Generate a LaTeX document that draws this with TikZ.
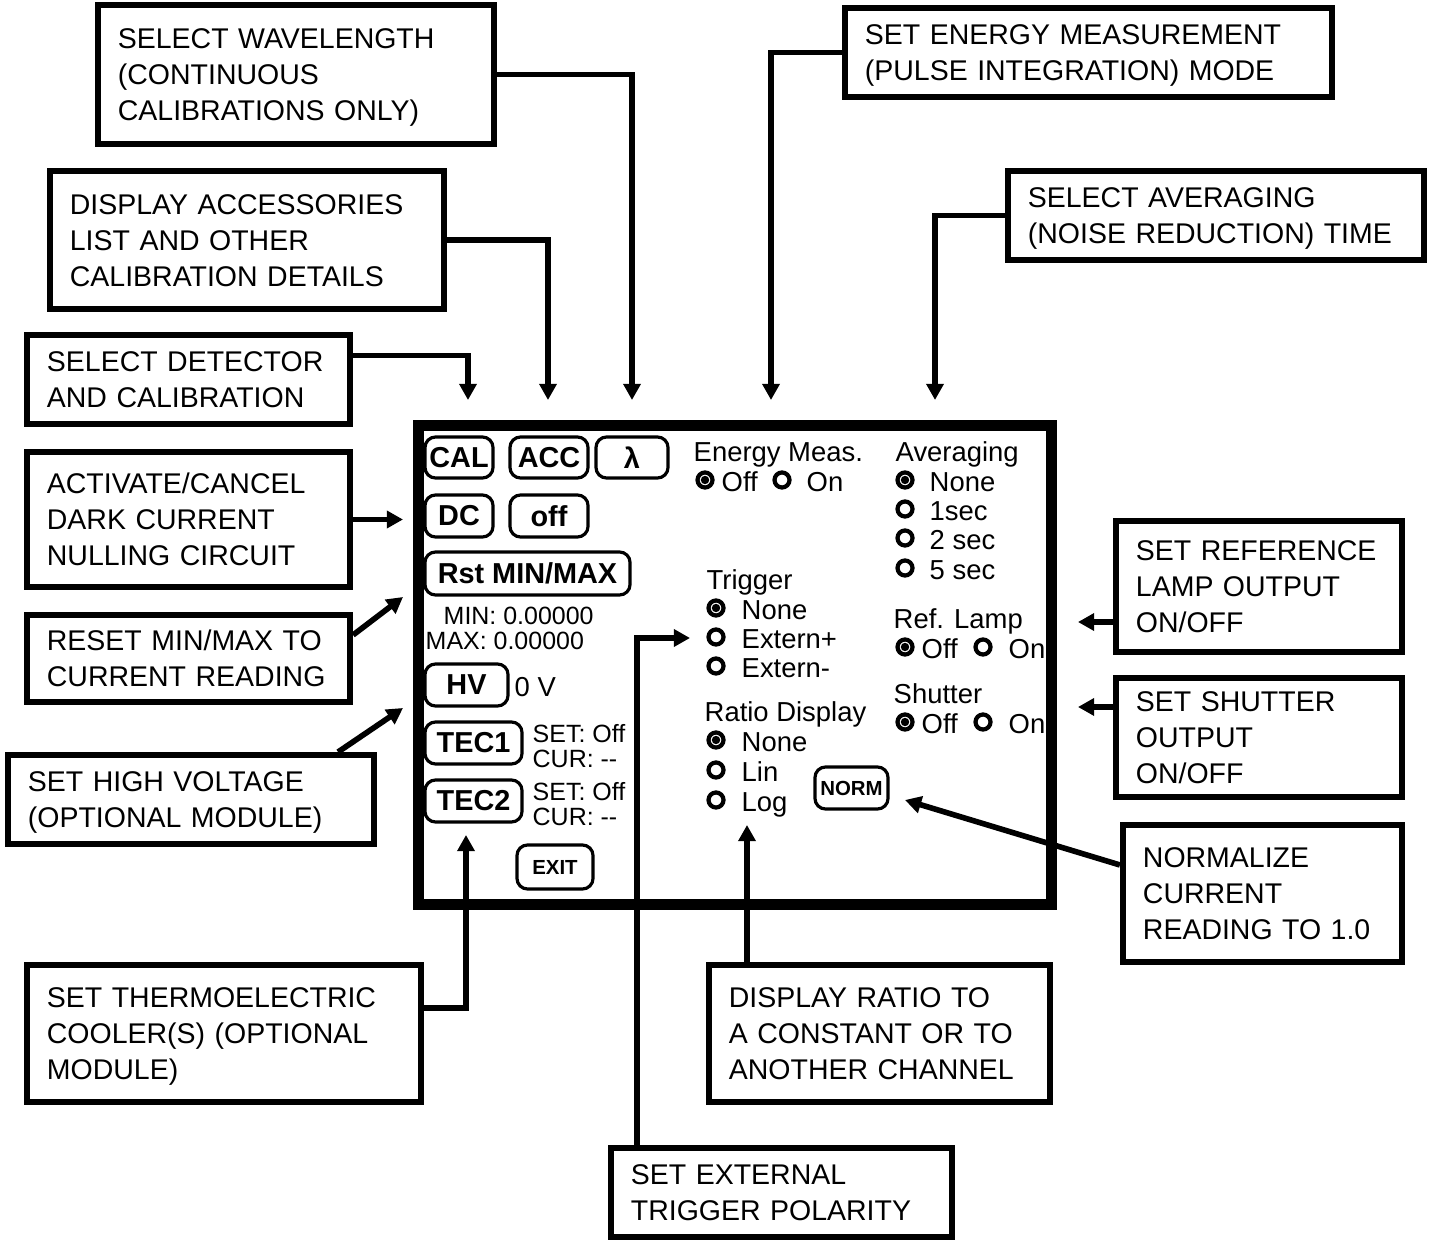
\documentclass[tikz,border=0pt]{standalone}
\usepackage{fontspec}
\setmainfont{Liberation Sans}
\usetikzlibrary{arrows.meta}

\newcommand{\callfont}{\fontsize{8.1pt}{10.25pt}\selectfont}
\newcommand{\scrfont}{\fontsize{7.8pt}{9pt}\selectfont}
\newcommand{\smallscrfont}{\fontsize{7.1pt}{8.5pt}\selectfont}
\newcommand{\btnfont}{\fontsize{8.2pt}{10pt}\selectfont\bfseries}
\newcommand{\smallbtnfont}{\fontsize{5.8pt}{7pt}\selectfont\bfseries}

\tikzset{
  callout/.style={draw, line width=1.7pt, inner xsep=0.2cm, inner ysep=0pt, align=left, font=\callfont,
    execute at begin node={\rule{0pt}{8pt}}, execute at end node={\rule[-2.2pt]{0pt}{0pt}}},
  lead/.style={line width=1.6pt, -{Triangle[length=4.6pt,width=4.8pt]}},
  btn/.style={draw, line width=0.9pt, rounded corners=3pt, inner sep=0pt, font=\btnfont},
  scrtext/.style={inner sep=0pt, anchor=west, font=\scrfont, text height=1.5ex, text depth=0.3ex},
  radio/.style={circle, draw, line width=1.2pt, inner sep=0pt, minimum size=0.15cm},
  radioon/.style={radio, path picture={\fill (path picture bounding box.center) circle (1.2pt);}},
}

\begin{document}
\begin{tikzpicture}[x=0.01cm,y=-0.01cm]
  \useasboundingbox (0,0) rectangle (1436,1243);

  % callouts
  \node[callout, text width=3.56cm, minimum height=1.39cm] (selwave) at (296,74.5) {SELECT WAVELENGTH\\(CONTINUOUS\\CALIBRATIONS ONLY)};
  \node[callout, text width=3.54cm, minimum height=1.38cm] (dispacc) at (247,240) {DISPLAY ACCESSORIES\\LIST AND OTHER\\CALIBRATION DETAILS};
  \node[callout, text width=2.83cm, minimum height=0.89cm] (seldet) at (188.5,379.5) {SELECT DETECTOR\\AND CALIBRATION};
  \node[callout, text width=4.47cm, minimum height=0.89cm] (setenergy) at (1088.5,52.5) {SET ENERGY MEASUREMENT\\(PULSE INTEGRATION) MODE};
  \node[callout, text width=3.76cm, minimum height=0.89cm] (selavg) at (1216,215.5) {SELECT AVERAGING\\(NOISE REDUCTION) TIME};
  \node[callout, text width=2.83cm, minimum height=1.35cm] (actdc) at (188.5,519.5) {ACTIVATE/CANCEL\\DARK CURRENT\\NULLING CIRCUIT};
  \node[callout, text width=2.83cm, minimum height=0.87cm] (rstmm) at (188.5,658.5) {RESET MIN/MAX TO\\CURRENT READING};
  \node[callout, text width=3.26cm, minimum height=0.89cm] (sethv) at (191,799.5) {SET HIGH VOLTAGE\\(OPTIONAL MODULE)};
  \node[callout, text width=3.54cm, minimum height=1.37cm] (settec) at (224,1033.5) {SET THERMOELECTRIC\\COOLER(S) (OPTIONAL\\MODULE)};
  \node[callout, text width=3.01cm, minimum height=0.89cm] (settrig) at (781.5,1192.5) {SET EXTERNAL\\TRIGGER POLARITY};
  \node[callout, text width=3.01cm, minimum height=1.37cm] (dispratio) at (879.5,1033.5) {DISPLAY RATIO TO\\A CONSTANT OR TO\\ANOTHER CHANNEL};
  \node[callout, text width=2.39cm, minimum height=1.37cm] (normcall) at (1262.5,893.5) {NORMALIZE\\CURRENT\\READING TO 1.0};
  \node[callout, text width=2.46cm, minimum height=1.31cm] (setlamp) at (1259,586.5) {SET REFERENCE\\LAMP OUTPUT\\ON/OFF};
  \node[callout, text width=2.46cm, minimum height=1.19cm] (setshut) at (1259,737.5) {SET SHUTTER\\OUTPUT\\ON/OFF};

  % arrow ends
  \coordinate (tipdet) at (468,400);
  \coordinate (tipacc) at (548,400);
  \coordinate (tipwl) at (632,400);
  \coordinate (tipen) at (771,400);
  \coordinate (tipavg) at (935,400);
  \coordinate (tipdc) at (403,519.5);
  \coordinate (tipmm) at (403,597);
  \coordinate (tiphv) at (403,708);
  \coordinate (tiptec) at (466,835);
  \coordinate (tiptrig) at (690,638);
  \coordinate (tipratio) at (747,825);
  \coordinate (tipnorm) at (905,800);
  \coordinate (tiplamp) at (1078,622);
  \coordinate (tipshut) at (1078,707);

  \draw[lead] (selwave.east) -| (tipwl);
  \draw[lead] (dispacc.east) -| (tipacc);
  \draw[lead] ([yshift=0.24cm]seldet.east) -| (tipdet);
  \draw[lead] (setenergy.west) -| (tipen);
  \draw[lead] (selavg.west) -| (tipavg);
  \draw[lead] (actdc.east) -- (tipdc);
  \draw[lead] ([yshift=0.235cm]rstmm.east) -- (tipmm);
  \draw[lead] ([xshift=-0.39cm]sethv.north east) -- (tiphv);
  \draw[lead] ([yshift=0.255cm]settec.east) -| (tiptec);
  \draw[lead] ([xshift=0.29cm]settrig.north west) |- (tiptrig);
  \draw[lead] (dispratio.north -| tipratio) -- (tipratio);
  \draw[lead] ([yshift=0.285cm]normcall.west) -- (tipnorm);
  \draw[lead] ([yshift=-0.355cm]setlamp.west) -- (tiplamp);
  \draw[lead] ([yshift=0.305cm]setshut.west) -- (tipshut);

  % the screen
  \node[draw, line width=3.1pt, minimum width=6.33cm, minimum height=4.79cm, inner sep=0pt] (screen) at (735,665) {};

  \node[btn, minimum width=0.68cm, minimum height=0.41cm] (cal) at (459,457.5) {CAL};
  \node[btn, minimum width=0.78cm, minimum height=0.41cm] (acc) at (549,457.5) {ACC};
  \node[btn, minimum width=0.72cm, minimum height=0.41cm] (lambda) at (632,457.5) {λ};
  \node[btn, minimum width=0.68cm, minimum height=0.42cm] (dc) at (459,516) {DC};
  \node[btn, minimum width=0.78cm, minimum height=0.42cm] (dcoff) at (549,516) {off};
  \node[btn, minimum width=2.05cm, minimum height=0.43cm] (rst) at (527.5,573.5) {Rst MIN/MAX};
  \node[scrtext, font=\smallscrfont] (mintxt) at (443,613) {MIN: 0.00000};
  \node[scrtext, font=\smallscrfont] (maxtxt) at (425,638) {MAX: 0.00000};
  \node[btn, minimum width=0.83cm, minimum height=0.42cm] (hv) at (466.5,685) {HV};
  \node[scrtext] (hvval) at (514,685) {0 V};
  \node[btn, minimum width=0.97cm, minimum height=0.42cm] (tec1) at (473.5,743) {TEC1};
  \node[scrtext, font=\smallscrfont] (tec1set) at (532,731) {SET: Off};
  \node[scrtext, font=\smallscrfont] (tec1cur) at (532,756) {CUR: \mbox{-}\mbox{-}};
  \node[btn, minimum width=0.97cm, minimum height=0.42cm] (tec2) at (473.5,801) {TEC2};
  \node[scrtext, font=\smallscrfont] (tec2set) at (532,789) {SET: Off};
  \node[scrtext, font=\smallscrfont] (tec2cur) at (532,814) {CUR: \mbox{-}\mbox{-}};
  \node[btn, font=\smallbtnfont, minimum width=0.76cm, minimum height=0.44cm] (exit) at (555,867) {EXIT};

  \node[scrtext] (enlbl) at (693,450) {Energy Meas.};
  \node[radioon] (enoff) at (705,480) {};
  \node[scrtext] (enofftxt) at (721,480) {Off};
  \node[radio] (enon) at (782,480) {};
  \node[scrtext] (enontxt) at (806,480) {On};

  \node[scrtext] (avglbl) at (895,450) {Averaging};
  \node[radioon] (avg0) at (905,480) {};
  \node[scrtext] (avg0txt) at (929,480) {None};
  \node[radio] (avg1) at (905,509) {};
  \node[scrtext] (avg1txt) at (929,509) {1sec};
  \node[radio] (avg2) at (905,538) {};
  \node[scrtext] (avg2txt) at (929,538) {2 sec};
  \node[radio] (avg5) at (905,568) {};
  \node[scrtext] (avg5txt) at (929,568) {5 sec};

  \node[scrtext] (triglbl) at (706,578) {Trigger};
  \node[radioon] (trig0) at (716,608) {};
  \node[scrtext] (trig0txt) at (741,608) {None};
  \node[radio] (trigp) at (716,637) {};
  \node[scrtext] (trigptxt) at (741,637) {Extern+};
  \node[radio] (trigm) at (716,666) {};
  \node[scrtext] (trigmtxt) at (741,666) {Extern-};

  \node[scrtext] (lamplbl) at (893,617) {Ref. Lamp};
  \node[radioon] (lampoff) at (905,647) {};
  \node[scrtext] (lampofftxt) at (921,647) {Off};
  \node[radio] (lampon) at (983,647) {};
  \node[scrtext] (lampontxt) at (1008,647) {On};

  \node[scrtext] (shutlbl) at (893,692) {Shutter};
  \node[radioon] (shutoff) at (905,722) {};
  \node[scrtext] (shutofftxt) at (921,722) {Off};
  \node[radio] (shuton) at (983,722) {};
  \node[scrtext] (shutontxt) at (1008,722) {On};

  \node[scrtext] (ratiolbl) at (704,710) {Ratio Display};
  \node[radioon] (ratio0) at (716,740) {};
  \node[scrtext] (ratio0txt) at (741,740) {None};
  \node[radio] (ratiolin) at (716,770) {};
  \node[scrtext] (ratiolintxt) at (741,770) {Lin};
  \node[radio] (ratiolog) at (716,800) {};
  \node[scrtext] (ratiologtxt) at (741,800) {Log};
  \node[btn, font=\smallbtnfont, minimum width=0.73cm, minimum height=0.42cm] (norm) at (851.5,788) {NORM};
\end{tikzpicture}
\end{document}
